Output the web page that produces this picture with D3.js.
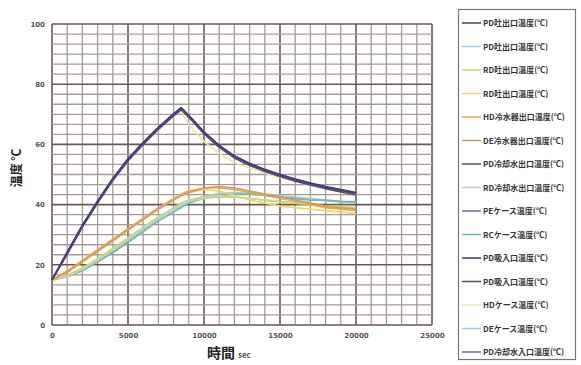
<!DOCTYPE html>
<html>
<head>
<meta charset="utf-8">
<script src="https://cdn.jsdelivr.net/npm/d3@7"></script>
<style>
  html, body { margin: 0; padding: 0; background: #fff; }
  svg { display: block; }
</style>
</head>
<body>
<svg id="chart" width="581" height="365"></svg>
<script>
// Elapsed time (sec)
const times = [0, 1000, 2000, 3000, 4000, 5000, 6000, 7000, 8000, 8500, 9000,
  10000, 11000, 12000, 13000, 14000, 15000, 16000, 17000, 18000, 19000, 20000];

// Temperature curves (℃), one per measuring point
const pdOutA   = [15, 24, 33, 41, 48.5, 55, 60.5, 65.5, 70, 72, 69.5, 64, 59.5, 56, 53.5, 51.5, 49.8, 48.3, 47, 45.8, 44.8, 43.8];
const pdOutB   = [15, 16, 18, 21, 24.5, 28, 31.5, 35, 38, 39.5, 41, 42.5, 43.5, 44, 44, 43.5, 43, 42.5, 42, 41.5, 41, 40.5];
const rdOutA   = [15, 16.5, 19, 22, 25.5, 29, 32.5, 36, 39, 40.5, 41.5, 42.5, 43, 42.5, 42, 41.5, 41, 40.5, 40, 39.5, 39.5, 39];
const rdOutB   = [15, 17.5, 21, 24.5, 28, 31.5, 35, 38.5, 41.5, 43, 44, 45, 44.5, 43, 41.5, 40.5, 39.5, 39, 38.5, 38, 37.5, 37];
const hdCoolOut= [15, 18, 21.5, 25, 28.5, 32, 35.5, 39, 42, 43.5, 44.5, 45.5, 45.5, 45, 44, 43, 42, 41, 40, 39, 38.5, 38];
const deCoolOut= [15, 17.5, 21, 24.5, 28, 31.5, 35, 38.5, 41.5, 43, 44, 45.5, 46, 45.5, 44.5, 43.5, 42.5, 41.5, 40.5, 39.5, 39, 38.5];
const pdWaterOut=[15, 23.5, 32.5, 40.5, 48, 54.5, 60, 65, 69.5, 71.5, 69, 63.5, 59, 55.5, 53, 51, 49.3, 47.8, 46.5, 45.3, 44.2, 43.2];
const rdWaterOut=[15, 16, 18.5, 21.5, 25, 28.5, 32, 35.5, 38.5, 40, 41, 42, 42.5, 42.5, 42, 41.5, 41, 40.5, 40, 39.5, 39, 38.5];
const peCase   = [15, 24, 33, 41, 48.5, 55, 60.5, 65.5, 70, 72, 69.5, 64, 59.5, 56, 53.5, 51.5, 49.8, 48.3, 47, 45.8, 44.8, 43.8];
const rcCase   = [15, 16, 18, 21, 24, 27.5, 31, 34.5, 37.5, 39, 40.5, 42, 43, 43.5, 43.5, 43, 42.5, 42, 41.5, 41.5, 41, 41];
const pdInA    = [15, 24.2, 33.2, 41.2, 48.7, 55.2, 60.7, 65.7, 70.2, 72.2, 69.7, 64.2, 59.7, 56.2, 53.7, 51.7, 50, 48.5, 47.2, 46, 45, 44];
const pdInB    = [15, 23.8, 32.8, 40.8, 48.3, 54.8, 60.3, 65.3, 69.8, 71.8, 69.3, 63.8, 59.3, 55.8, 53.3, 51.3, 49.6, 48.1, 46.8, 45.6, 44.6, 43.6];
const hdCase   = [15, 24, 33, 41, 48.5, 55, 60.5, 65.5, 70, 71, 66.5, 61, 57, 54, 52, 50.5, 49, 47.8, 46.6, 45.5, 44.5, 43.5];
const deCase   = [15, 16.2, 18.5, 21.5, 24.8, 28.2, 31.8, 35.3, 38.3, 39.8, 41.2, 42.8, 43.8, 44, 43.8, 43.3, 42.8, 42.3, 41.8, 41.3, 41, 40.7];
const pdWaterIn= [15, 24, 33, 41, 48.5, 55, 60.5, 65.5, 70, 72, 69.5, 64, 59.5, 56, 53.5, 51.5, 49.8, 48.3, 47, 45.8, 44.8, 43.8];

const seriesNames = [
  "PD吐出口温度(℃)", "PD吐出口温度(℃)", "RD吐出口温度(℃)", "RD吐出口温度(℃)",
  "HD冷水器出口温度(℃)", "DE冷水器出口温度(℃)", "PD冷却水出口温度(℃)", "RD冷却水出口温度(℃)",
  "PEケース温度(℃)", "RCケース温度(℃)", "PD吸入口温度(℃)", "PD吸入口温度(℃)",
  "HDケース温度(℃)", "DEケース温度(℃)", "PD冷却水入口温度(℃)"
];
const seriesValues = [pdOutA, pdOutB, rdOutA, rdOutB, hdCoolOut, deCoolOut, pdWaterOut, rdWaterOut,
  peCase, rcCase, pdInA, pdInB, hdCase, deCase, pdWaterIn];
const seriesColors = ["#4a3f78", "#a9c9e2", "#c9d87a", "#f1d466", "#e7a84e", "#d49a5c", "#56506a", "#c8d0b8",
  "#7a5fae", "#6fb9a2", "#363a6c", "#5b4870", "#efe4a8", "#a5cde6", "#7d5fb4"];

const xTicks = [0, 5000, 10000, 15000, 20000, 25000];
const yTicks = [0, 20, 40, 60, 80, 100];

const svg = d3.select("#chart");
const plot = { left: 52, right: 432, top: 24, bottom: 325 };

const x = d3.scaleLinear().domain([0, 25000]).range([plot.left, plot.right]);
const y = d3.scaleLinear().domain([0, 100]).range([plot.bottom, plot.top]);

// grid: minor lines every 1000 sec / 20/6 ℃, major every 5000 sec / 20 ℃
const grid = svg.append("g");
d3.range(0, 25001, 1000).forEach(v => {
  const major = v % 5000 === 0;
  grid.append("line")
    .attr("x1", x(v)).attr("x2", x(v)).attr("y1", plot.top).attr("y2", plot.bottom)
    .attr("stroke", major ? "#6e5656" : "#a89999").attr("stroke-width", major ? 1.6 : 1.3);
});
d3.range(0, 31).forEach(i => {
  const v = i * 20 / 6;
  const major = i % 6 === 0;
  grid.append("line")
    .attr("x1", plot.left).attr("x2", plot.right).attr("y1", y(v)).attr("y2", y(v))
    .attr("stroke", major ? "#6e5656" : "#a89999").attr("stroke-width", major ? 1.6 : 1.3);
});

// axes
const xAxis = d3.axisBottom(x).tickValues(xTicks).tickFormat(d3.format("d")).tickSize(0).tickPadding(8);
const yAxis = d3.axisLeft(y).tickValues(yTicks).tickFormat(d3.format("d")).tickSize(0).tickPadding(7);
const gx = svg.append("g").attr("transform", `translate(0,${plot.bottom})`).call(xAxis);
const gy = svg.append("g").attr("transform", `translate(${plot.left},0)`).call(yAxis);
[gx, gy].forEach(g => {
  g.select(".domain").remove();
  g.selectAll("text").attr("font-family", "DejaVu Sans").attr("font-size", 7)
    .attr("font-weight", "bold").attr("fill", "#555");
});

// curves
const line = d3.line().x((d, i) => x(times[i])).y(d => y(d));
const drawOrder = [1, 13, 9, 7, 2, 3, 4, 5, 12, 6, 11, 14, 8, 10, 0];
drawOrder.forEach(k => {
  svg.append("path").datum(seriesValues[k])
    .attr("d", line).attr("fill", "none")
    .attr("stroke", seriesColors[k]).attr("stroke-width", 1.6)
    .attr("stroke-linejoin", "round");
});

// axis titles
svg.append("text")
  .attr("transform", "translate(21,168) rotate(-90)")
  .attr("text-anchor", "middle")
  .attr("font-family", "Noto Sans CJK JP").attr("font-weight", "bold")
  .attr("font-size", 12).attr("fill", "#222")
  .text("温度 ℃");

const xt = svg.append("text").attr("x", 207).attr("y", 358)
  .attr("font-family", "Noto Sans CJK JP").attr("font-weight", "bold").attr("fill", "#222");
xt.append("tspan").attr("font-size", 14).text("時間");
xt.append("tspan").attr("font-size", 8).attr("dx", 3).attr("fill", "#555").text("sec");

// legend
const lg = svg.append("g");
lg.append("rect").attr("x", 458.5).attr("y", 9.5).attr("width", 117).attr("height", 350)
  .attr("fill", "#fff").attr("stroke", "#777").attr("stroke-width", 1.2);
const ly = d3.scalePoint().domain(d3.range(seriesNames.length)).range([23, 352]);
seriesNames.forEach((name, i) => {
  lg.append("line").attr("x1", 462).attr("x2", 481).attr("y1", ly(i)).attr("y2", ly(i))
    .attr("stroke", seriesColors[i]).attr("stroke-width", 1.5);
  lg.append("text").attr("x", 483).attr("y", ly(i) + 3)
    .attr("font-family", "Noto Sans CJK JP").attr("font-size", 8).attr("font-weight", "bold")
    .attr("fill", "#333").text(name);
});
</script>
</body>
</html>
